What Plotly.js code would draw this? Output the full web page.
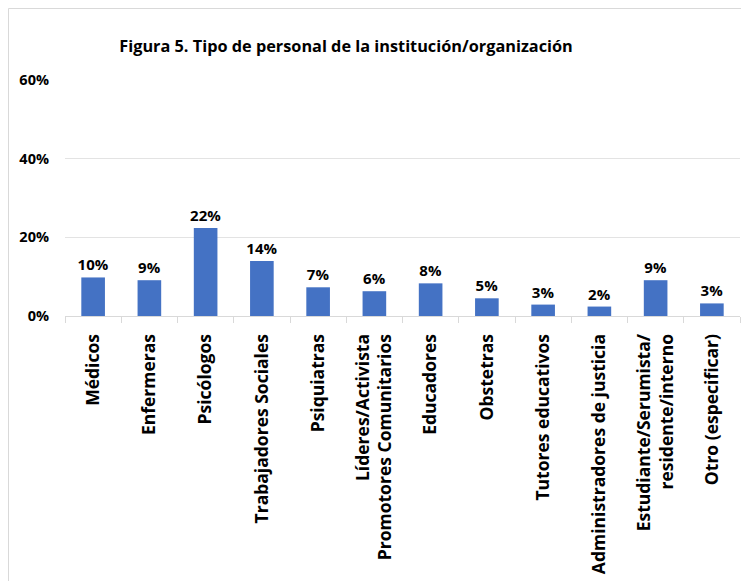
<!DOCTYPE html>
<html>
<head>
<meta charset="utf-8">
<script src="https://cdn.plot.ly/plotly-3.0.1.min.js"></script>
<style>html,body{margin:0;padding:0;background:#fff;}#chart{width:741px;height:581px;}</style>
</head>
<body>
<div id="chart"></div>
<script>
const categories = [
  "Médicos",
  "Enfermeras",
  "Psicólogos",
  "Trabajadores Sociales",
  "Psiquiatras",
  "Líderes/Activista<br>Promotores Comunitarios",
  "Educadores",
  "Obstetras",
  "Tutores educativos",
  "Administradores de justicia",
  "Estudiante/Serumista/<br>residente/interno",
  "Otro (especificar)"
];
const values = [0.098, 0.091, 0.224, 0.140, 0.073, 0.063, 0.083, 0.045, 0.029, 0.024, 0.091, 0.032];
const yTickVals = [0, 0.2, 0.4, 0.6];
const yTickText = ["0%", "20%", "40%", "60%"];
const titleText = "Figura 5. Tipo de personal de la institución/organización";

const font = "Open Sans, Noto Sans, sans-serif";

// plot area in pixels: x 65..740, y 80..316
const L = 65, R = 740, T = 80, B = 316;
const px = v => (v - L) / (R - L);
const py = v => (B - v) / (B - T);

Plotly.newPlot("chart", [{
  type: "bar",
  x: categories,
  y: values,
  marker: {color: "#4472C4"},
  texttemplate: "<b>%{y:.0%}</b>",
  textposition: "outside",
  constraintext: "none",
  cliponaxis: false,
  textfont: {family: font, size: 15, color: "#000"},
  hoverinfo: "skip"
}], {
  width: 741, height: 581,
  margin: {l: 65, r: 1, t: 80, b: 265},
  paper_bgcolor: "#fff",
  plot_bgcolor: "#fff",
  bargap: 0.58,
  showlegend: false,
  title: {
    text: "<b>" + titleText + "</b>",
    font: {family: font, size: 16.3, color: "#000"},
    x: 0.467, xanchor: "center", y: 0.92, yanchor: "middle"
  },
  xaxis: {
    type: "category",
    tickangle: -90,
    tickfont: {family: font, size: 17.5, color: "#000", weight: "bold"},
    showgrid: false,
    showline: true,
    linecolor: "#d9d9d9",
    linewidth: 1,
    ticks: "outside",
    tickson: "boundaries",
    ticklen: 6,
    tickcolor: "#d9d9d9",
    ticklabelstandoff: 10,
    automargin: false
  },
  yaxis: {
    range: [0, 0.6],
    tickvals: yTickVals,
    ticktext: yTickText,
    tickfont: {family: font, size: 14.5, color: "#000", weight: "bold"},
    showgrid: true,
    gridcolor: "#e3e3e3",
    gridwidth: 1,
    zeroline: false,
    showline: false,
    ticks: "",
    ticklabelstandoff: 15,
    automargin: false
  },
  shapes: [
    {type: "line", xref: "paper", yref: "paper", x0: px(8.5), x1: px(8.5), y0: py(8.5), y1: py(590), line: {color: "#d9d9d9", width: 1}},
    {type: "line", xref: "paper", yref: "paper", x0: px(8.5), x1: px(750), y0: py(8.5), y1: py(8.5), line: {color: "#d9d9d9", width: 1}}
  ]
}, {displayModeBar: false, staticPlot: true});
</script>
</body>
</html>
